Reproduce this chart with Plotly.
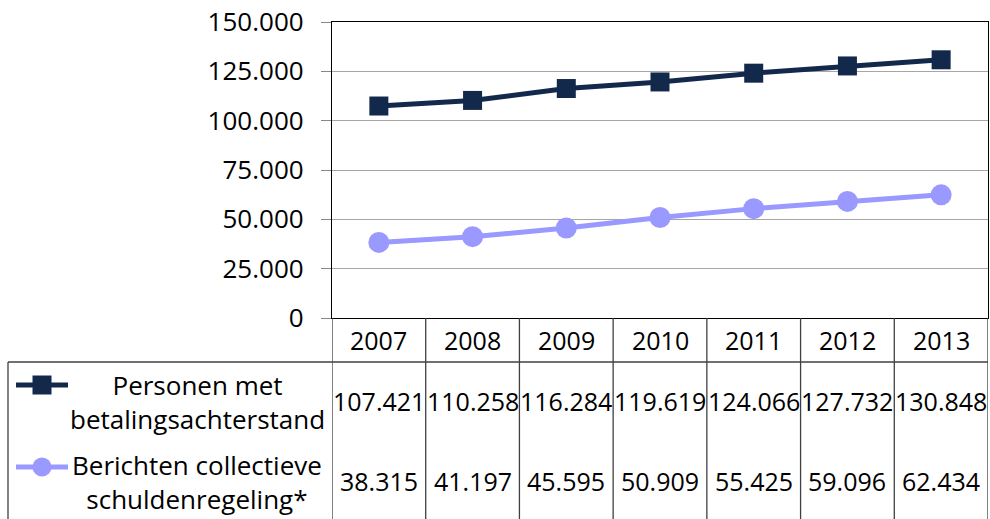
import plotly.graph_objects as go

years = [2007, 2008, 2009, 2010, 2011, 2012, 2013]
personen = [107421, 110258, 116284, 119619, 124066, 127732, 130848]
berichten = [38315, 41197, 45595, 50909, 55425, 59096, 62434]
series_names = ["Personen met<br>betalingsachterstand", "Berichten collectieve<br>schuldenregeling*"]
col_dark = "#13294B"
col_light = "#9999FF"

W, H = 990, 519
L, R, T, B = 332, 2, 22, 201
pw, ph = W - L - R, H - T - B

def px2x(px):
    return (px - L) / pw

def py2y(py):
    return (H - B - py) / ph

FONT = "Open Sans"
FS = 25
FST = 26
FSL = 26

fig = go.Figure()
fig.add_trace(go.Scatter(x=years, y=personen, mode="lines+markers",
                         line=dict(color=col_dark, width=5),
                         marker=dict(symbol="square", size=19, color=col_dark),
                         cliponaxis=False, showlegend=False))
fig.add_trace(go.Scatter(x=years, y=berichten, mode="lines+markers",
                         line=dict(color=col_light, width=5),
                         marker=dict(symbol="circle", size=21, color=col_light),
                         cliponaxis=False, showlegend=False))

shapes = []
line_col = "#404040"
bottom = py2y(519)
for i in range(len(years) + 1):
    xv = years[0] - 0.5 + i
    shapes.append(dict(type="line", xref="x", yref="paper", x0=xv, x1=xv,
                       y0=0, y1=bottom, line=dict(color=line_col, width=1.3)))
shapes.append(dict(type="line", xref="paper", yref="paper", x0=px2x(8), x1=1,
                   y0=py2y(362), y1=py2y(362), line=dict(color=line_col, width=1.3)))
shapes.append(dict(type="line", xref="paper", yref="paper", x0=px2x(8), x1=px2x(8),
                   y0=py2y(362), y1=bottom, line=dict(color=line_col, width=1.3)))

key_rows = [(385, col_dark, "square"), (467, col_light, "circle")]
for py, c, sym in key_rows:
    shapes.append(dict(type="line", xref="paper", yref="paper", x0=px2x(16), x1=px2x(68),
                       y0=py2y(py), y1=py2y(py), line=dict(color=c, width=5)))
    s = 9.5
    shapes.append(dict(type="rect" if sym == "square" else "circle",
                       xref="paper", yref="paper",
                       x0=px2x(42 - s), x1=px2x(42 + s), y0=py2y(py + s), y1=py2y(py - s),
                       fillcolor=c, line=dict(width=0)))

ann = []
for yr in years:
    ann.append(dict(x=yr, y=py2y(340), xref="x", yref="paper", text=str(yr),
                    xanchor="center", yanchor="middle",
                    showarrow=False, font=dict(family=FONT, size=FS, color="#000")))

def fmt(v):
    return f"{v:,}".replace(",", ".")

for vals, py in [(personen, 401), (berichten, 481)]:
    for yr, v in zip(years, vals):
        ann.append(dict(x=yr, y=py2y(py), xref="x", yref="paper", text=fmt(v),
                        xanchor="center", yanchor="middle",
                        showarrow=False, font=dict(family=FONT, size=FS, color="#000")))

for name, py in zip(series_names, [402, 482]):
    ann.append(dict(x=px2x(197), y=py2y(py), xref="paper", yref="paper", text=name,
                    xanchor="center", yanchor="middle",
                    showarrow=False, align="center",
                    font=dict(family=FONT, size=FSL, color="#000")))

fig.update_layout(
    width=W, height=H,
    margin=dict(l=L, r=R, t=T, b=B, pad=0),
    paper_bgcolor="white", plot_bgcolor="white",
    separators=",.",
    shapes=shapes, annotations=ann,
    xaxis=dict(range=[years[0] - 0.5, years[-1] + 0.5], showticklabels=False,
               showgrid=False, zeroline=False, showline=True, linecolor="#000",
               linewidth=1.3, mirror=True, ticks=""),
    yaxis=dict(range=[0, 150000], dtick=25000, tickformat=",d",
               ticklabeloverflow="allow", ticklabelstandoff=12,
               showgrid=True, gridcolor="#A6A6A6", gridwidth=1,
               zeroline=False, showline=True, linecolor="#000", linewidth=1.3,
               mirror=True, ticks="outside", ticklen=10, tickcolor="#888",
               tickfont=dict(family=FONT, size=FST, color="#000")),
)

fig.write_html("out.html", config={"displayModeBar": False},
               post_script="document.body.style.margin='0';document.body.style.overflow='hidden';")
